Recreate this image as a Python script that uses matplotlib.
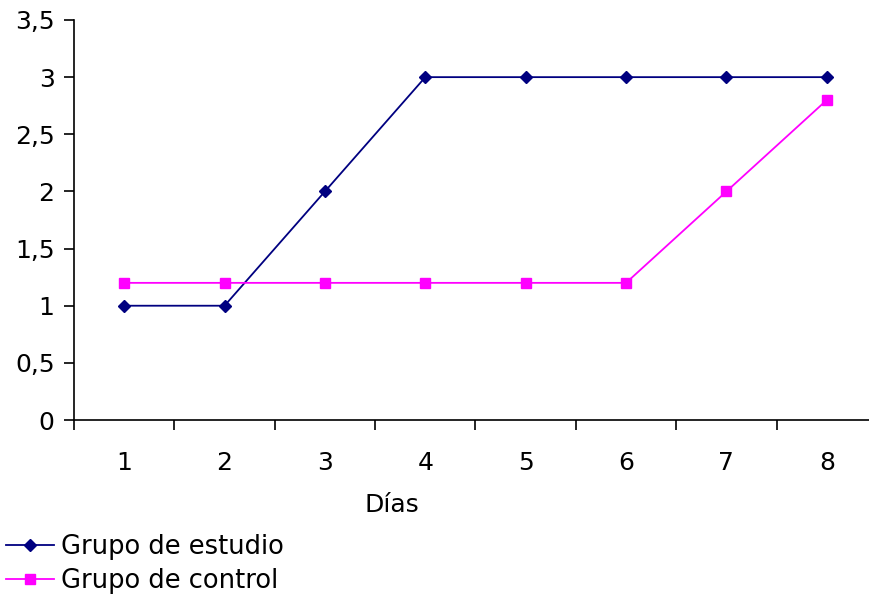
import matplotlib.pyplot as plt
from matplotlib.ticker import FuncFormatter, FixedLocator

dias = [1, 2, 3, 4, 5, 6, 7, 8]
estudio = [1, 1, 2, 3, 3, 3, 3, 3]
control = [1.2, 1.2, 1.2, 1.2, 1.2, 1.2, 2, 2.8]
yticks = [0, 0.5, 1, 1.5, 2, 2.5, 3, 3.5]

plt.rcParams['font.family'] = ['DejaVu Sans']

fig = plt.figure(figsize=(8.7, 6.01), dpi=100)
ax = fig.add_axes([74 / 870, 181 / 601, 803 / 870, 400 / 601])

ax.plot(dias, estudio, color='#000080', marker='D', markersize=6.5, linewidth=1.3,
        label='Grupo de estudio', clip_on=False)
ax.plot(dias, control, color='#FF00FF', marker='s', markersize=7, linewidth=1.3,
        label='Grupo de control', clip_on=False)

ax.set_xlim(0.5, 8.5)
ax.set_ylim(0, 3.5)
ax.set_yticks(yticks)
ax.yaxis.set_major_formatter(FuncFormatter(lambda v, p: ('%g' % v).replace('.', ',')))
ax.set_xticks(dias)
ax.set_xticklabels([str(d) for d in dias])
ax.xaxis.set_minor_locator(FixedLocator([d + 0.5 for d in range(0, 8)]))
ax.tick_params(axis='x', which='major', length=0, pad=22, labelsize=18)
ax.tick_params(axis='x', which='minor', length=7, width=1.2, direction='out')
ax.tick_params(axis='y', length=7, width=1.2, labelsize=18, pad=7)

for s in ['top', 'right']:
    ax.spines[s].set_visible(False)
for s in ['left', 'bottom']:
    ax.spines[s].set_linewidth(1.2)

ax.set_xlabel('Días', fontsize=18)
ax.xaxis.set_label_coords((392 - 74) / 803, -(505 - 420) / 400)
ax.xaxis.label.set_va('center')

fig.legend(loc='upper left', bbox_to_anchor=(6 / 870, (601 - 534) / 601), frameon=False,
           fontsize=18.5, handlelength=1.85, handletextpad=0.3, labelspacing=0.3,
           borderpad=0, borderaxespad=0, bbox_transform=fig.transFigure)

fig.savefig('out.png', dpi=100)
